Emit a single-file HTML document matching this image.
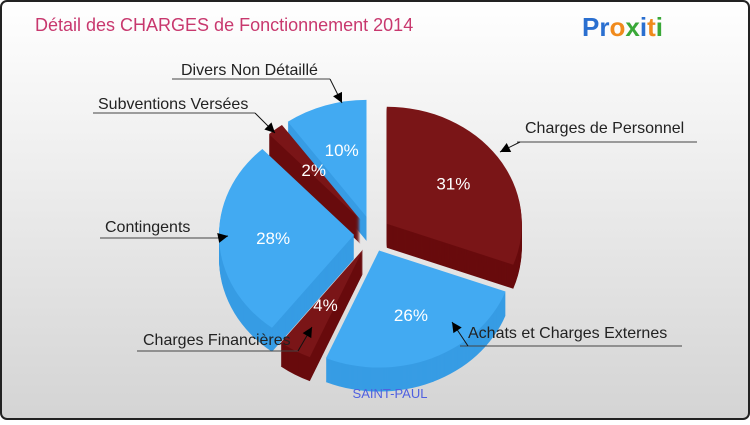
<!DOCTYPE html>
<html><head><meta charset="utf-8">
<style>
html,body{margin:0;padding:0;}
body{width:750px;height:420px;overflow:hidden;font-family:"Liberation Sans",sans-serif;}
</style></head>
<body>
<svg id="chart" width="750" height="420" viewBox="0 0 750 420" xmlns="http://www.w3.org/2000/svg">
<defs>
<linearGradient id="bg" x1="0" y1="0" x2="0" y2="1">
<stop offset="0" stop-color="#ffffff"/><stop offset="1" stop-color="#d4d4d4"/>
</linearGradient>
</defs>
<rect x="1" y="1" width="748" height="418" rx="6" fill="url(#bg)" stroke="#222" stroke-width="2"/>
<text x="35" y="31" font-size="18" fill="#c8386e" font-family="Liberation Sans, sans-serif">Détail des CHARGES de Fonctionnement 2014</text>
<g font-size="26" font-weight="bold" font-family="Liberation Sans, sans-serif">
<text x="582" y="36"><tspan fill="#2a6fd0">Pr</tspan><tspan fill="#f08a1c">o</tspan><tspan fill="#3aa838">x</tspan><tspan fill="#2a6fd0">i</tspan><tspan fill="#f08a1c">t</tspan><tspan fill="#3aa838">i</tspan></text>
</g>
<g id="slices"></g>
<g id="labels"></g>
<text x="390" y="398" font-size="13" fill="#5060e0" text-anchor="middle">SAINT-PAUL</text>
</svg>
<script>
const categories = ["Charges de Personnel","Achats et Charges Externes","Charges Financières","Contingents","Subventions Versées","Divers Non Détaillé"];
const values = [31,26,4,28,2,10];
const kinds = ["red","blue","red","blue","red","blue"];

const NS="http://www.w3.org/2000/svg";
const cx=372, cy=234, rx=135, ry=117, depth=24, expl=18;
const col={blue:{top:"#42aaf2",side:"#379ce4"},red:{top:"#7a1517",side:"#680b0d"}};
const total=values.reduce((a,b)=>a+b,0);
const gS=document.getElementById('slices'), gL=document.getElementById('labels');
function pt(a,ox,oy,dy){return [ox+rx*Math.cos(a), oy+ry*Math.sin(a)+dy];}
function slicePath(a0,a1,ox,oy,dy){
  const p0=pt(a0,ox,oy,dy),p1=pt(a1,ox,oy,dy);
  const large=(a1-a0)>Math.PI?1:0;
  return `M${ox},${oy+dy} L${p0[0]},${p0[1]} A${rx},${ry} 0 ${large} 1 ${p1[0]},${p1[1]} Z`;
}
let acc=0; const sl=[];
values.forEach((v,i)=>{
  const a0=-Math.PI/2+acc/total*2*Math.PI; acc+=v;
  const a1=-Math.PI/2+acc/total*2*Math.PI;
  const m=(a0+a1)/2;
  sl.push({i,a0,a1,m,ox:cx+expl*Math.cos(m),oy:cy+expl*Math.sin(m)});
});
const order=sl.slice().sort((a,b)=>Math.sin(a.m)-Math.sin(b.m));
order.forEach(s=>{
  const g=document.createElementNS(NS,'g');
  
  
  const c=col[kinds[s.i]];
  for(let d=depth;d>0;d-=1){
    const p=document.createElementNS(NS,'path');
    p.setAttribute('d',slicePath(s.a0,s.a1,s.ox,s.oy,d));
    p.setAttribute('fill',c.side);
    g.appendChild(p);
  }
  const t=document.createElementNS(NS,'path');
  t.setAttribute('d',slicePath(s.a0,s.a1,s.ox,s.oy,0));
  t.setAttribute('fill',c.top);
  g.appendChild(t);
  const tx=document.createElementNS(NS,'text');
  const r=values[s.i]<5?0.55:0.6;
  tx.setAttribute('x',s.ox+rx*r*Math.cos(s.m));
  tx.setAttribute('y',s.oy+ry*r*Math.sin(s.m)+6);
  tx.setAttribute('fill','#ffffff');
  tx.setAttribute('font-size','17');
  tx.setAttribute('text-anchor','middle');
  tx.textContent=values[s.i]+'%';
  g.appendChild(tx);
  gS.appendChild(g);
});
const labelPos=[
 {tx:525,ty:133,lx1:517,lx2:697,ly:142,ex:520,ey:142,ax:500,ay:152},
 {tx:468,ty:338,lx1:460,lx2:682,ly:346,ex:468,ey:346,ax:452,ay:322},
 {tx:143,ty:345,lx1:137,lx2:298,ly:351,ex:298,ey:351,ax:312,ay:327},
 {tx:105,ty:232,lx1:100,lx2:218,ly:238,ex:218,ey:238,ax:228,ay:236},
 {tx:98,ty:109,lx1:93,lx2:255,ly:113,ex:255,ey:113,ax:275,ay:133},
 {tx:181,ty:75,lx1:172,lx2:330,ly:79,ex:330,ey:79,ax:342,ay:103}
];
labelPos.forEach((L,i)=>{
  const g=document.createElementNS(NS,'g');
  
  
  const pl=document.createElementNS(NS,'polyline');
  pl.setAttribute('points',`${L.lx2},${L.ly} ${L.lx1},${L.ly}`);
  pl.setAttribute('stroke','#444');pl.setAttribute('fill','none');
  g.appendChild(pl);
  const ln=document.createElementNS(NS,'line');
  ln.setAttribute('x1',L.ex);ln.setAttribute('y1',L.ey);ln.setAttribute('x2',L.ax);ln.setAttribute('y2',L.ay);
  ln.setAttribute('stroke','#111');
  g.appendChild(ln);
  const ang=Math.atan2(L.ay-L.ey,L.ax-L.ex);
  const hx=L.ax,hy=L.ay,s=10,w=5;
  const bx=hx-s*Math.cos(ang),by=hy-s*Math.sin(ang);
  const ah=document.createElementNS(NS,'polygon');
  ah.setAttribute('points',`${hx},${hy} ${bx-w*Math.sin(ang)},${by+w*Math.cos(ang)} ${bx+w*Math.sin(ang)},${by-w*Math.cos(ang)}`);
  ah.setAttribute('fill','#000');
  g.appendChild(ah);
  const t=document.createElementNS(NS,'text');
  t.setAttribute('x',L.tx);t.setAttribute('y',L.ty);
  t.setAttribute('font-size','16');t.setAttribute('fill','#222');
  t.textContent=categories[i];
  g.appendChild(t);
  gL.appendChild(g);
});
</script>
</body></html>
